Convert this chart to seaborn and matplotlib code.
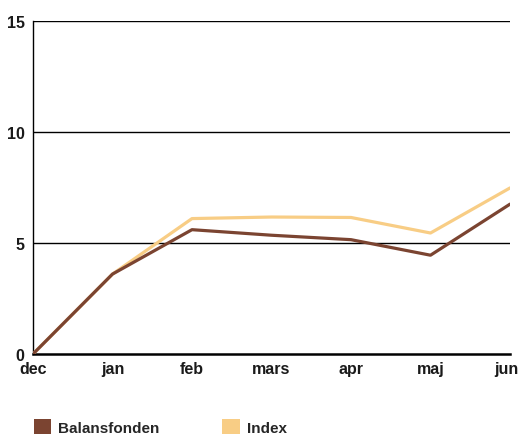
import numpy as np
import pandas as pd
import matplotlib
matplotlib.use("Agg")
import matplotlib.pyplot as plt
import matplotlib.transforms as mtransforms
from matplotlib.patches import Patch
import seaborn as sns

months = ["dec", "jan", "feb", "mars", "apr", "maj", "jun"]
balansfonden = [0.0, 3.6, 5.6, 5.35, 5.15, 4.45, 6.75]
index_vals = [0.0, 3.6, 6.1, 6.17, 6.15, 5.45, 7.48]
series_names = ["Balansfonden", "Index"]
series_colors = ["#7b4431", "#f8cd85"]
y_ticks = [0, 5, 10, 15]

df = pd.DataFrame({
    "month": months * 2,
    "value": balansfonden + index_vals,
    "series": [series_names[0]] * len(months) + [series_names[1]] * len(months),
})
df["pos"] = list(range(len(months))) * 2

sns.set_style("white")
plt.rcParams["font.family"] = ["Liberation Sans", "DejaVu Sans"]

fig = plt.figure(figsize=(5.21, 4.35), dpi=100)
ax = fig.add_axes([33 / 521, 1 - 355 / 435, (510 - 33) / 521, (355 - 22) / 435])

# gridlines behind data
for yv in y_ticks[1:]:
    ax.axhline(yv, color="black", lw=1.0, zorder=1)

sns.lineplot(
    data=df, x="pos", y="value", hue="series",
    hue_order=[series_names[1], series_names[0]],
    palette={series_names[0]: series_colors[0], series_names[1]: series_colors[1]},
    linewidth=2.3, legend=False, ax=ax, zorder=3,
)

ax.set_xlim(0, len(months) - 1)
ax.set_ylim(0, 15)
ax.set_xticks(range(len(months)))
ax.set_xticklabels(months)
ax.set_yticks(y_ticks)
ax.set_yticklabels([str(v) for v in y_ticks])
ax.set_xlabel("")
ax.set_ylabel("")

for s in ["top", "right"]:
    ax.spines[s].set_visible(False)
ax.spines["left"].set_color("black")
ax.spines["left"].set_linewidth(1.0)
ax.spines["bottom"].set_color("black")
ax.spines["bottom"].set_linewidth(1.8)

ax.tick_params(axis="x", direction="in", length=6, width=1, color="black",
               pad=5, labelsize=11.5)
ax.tick_params(axis="y", length=0, pad=6, labelsize=11.5)
for lab in ax.get_xticklabels() + ax.get_yticklabels():
    lab.set_fontweight("bold")
    lab.set_color("#1a1a1a")

# nudge last label so it stays inside the figure
last = ax.get_xticklabels()[-1]
last.set_transform(last.get_transform() +
                   mtransforms.ScaledTranslation(-4 / 100, 0, fig.dpi_scale_trans))

handles = [Patch(facecolor=c, edgecolor="none") for c in series_colors]
leg = fig.legend(
    handles, series_names, loc="lower left", bbox_to_anchor=(33 / 521, -0.004),
    ncol=2, frameon=False, handlelength=1.15, handleheight=1.15,
    handletextpad=0.45, columnspacing=4.1, borderpad=0.05, borderaxespad=0,
    prop={"weight": "bold", "size": 11},
)

fig.savefig("out.png", dpi=100)
